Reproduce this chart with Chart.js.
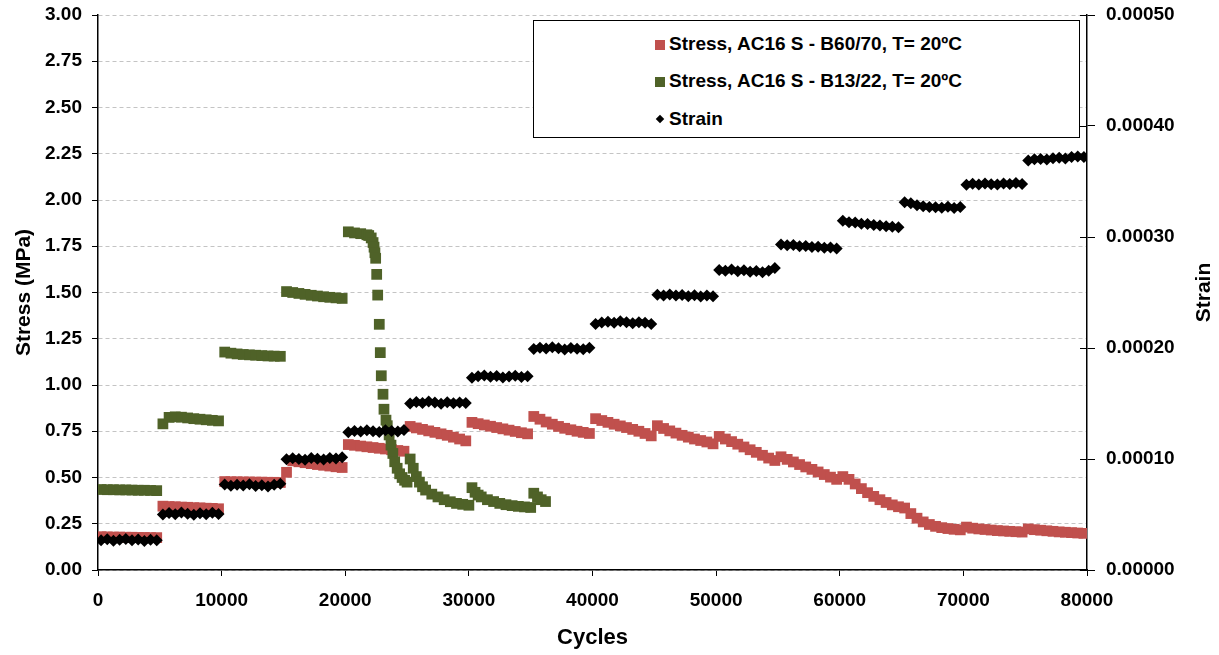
<!DOCTYPE html>
<html>
<head>
<meta charset="utf-8">
<script src="https://cdn.jsdelivr.net/npm/chart.js@4.4.1/dist/chart.umd.min.js"></script>
<style>
  html, body { margin: 0; padding: 0; background: #fff; }
  #wrap { position: relative; width: 1219px; height: 655px; }
  #legend {
    position: absolute; left: 533px; top: 20px; width: 545px; height: 116px;
    border: 1px solid #000; background: #fff;
    font: bold 19px 'Liberation Sans', Arial, sans-serif; color: #000;
  }
  .item { position: absolute; left: 121px; height: 22px; line-height: 22px; white-space: nowrap; }
  .mk { display: inline-block; width: 10px; height: 10px; margin-right: 4px; vertical-align: 0px; }
  .dia { display: inline-block; width: 6px; height: 6px; background: #000; transform: rotate(45deg); margin: 0 6px 0 2px; vertical-align: 3px; }
</style>
</head>
<body>
<div id="wrap">
  <canvas id="chart" width="1219" height="655"></canvas>
  <div id="legend">
    <div class="item" style="top:12px"><span class="mk" style="background:#c0504d"></span>Stress, AC16 S - B60/70, T= 20ºC</div>
    <div class="item" style="top:49px"><span class="mk" style="background:#4f6228"></span>Stress, AC16 S - B13/22, T= 20ºC</div>
    <div class="item" style="top:87px"><span class="dia"></span>Strain</div>
  </div>
</div>
<script>
// load steps of 5000 cycles, 10 readings per step
const blockStarts = [0, 5000, 10000, 15000, 20000, 25000, 30000, 35000,
                     40000, 45000, 50000, 55000, 60000, 65000, 70000, 75000];
const blockOffsets = [250, 750, 1250, 1750, 2250, 2750, 3250, 3750, 4250, 4750];

// strain (right axis)
const strainByBlock = [
    [0.0000267, 0.0000277, 0.0000263, 0.0000272, 0.0000280, 0.0000267, 0.0000275, 0.0000262, 0.0000273, 0.0000268],
    [0.0000500, 0.0000513, 0.0000503, 0.0000517, 0.0000507, 0.0000497, 0.0000512, 0.0000502, 0.0000515, 0.0000505],
    [0.0000770, 0.0000758, 0.0000767, 0.0000762, 0.0000772, 0.0000757, 0.0000763, 0.0000753, 0.0000768, 0.0000777],
    [0.0000997, 0.0001007, 0.0001000, 0.0000993, 0.0001008, 0.0001002, 0.0000995, 0.0001010, 0.0001005, 0.0001015],
    [0.0001242, 0.0001253, 0.0001247, 0.0001258, 0.0001250, 0.0001243, 0.0001260, 0.0001252, 0.0001247, 0.0001262],
    [0.0001500, 0.0001513, 0.0001505, 0.0001517, 0.0001508, 0.0001498, 0.0001512, 0.0001503, 0.0001510, 0.0001505],
    [0.0001733, 0.0001745, 0.0001753, 0.0001740, 0.0001748, 0.0001735, 0.0001743, 0.0001750, 0.0001738, 0.0001745],
    [0.0001992, 0.0002003, 0.0001995, 0.0002007, 0.0001997, 0.0001987, 0.0002000, 0.0001993, 0.0001988, 0.0002002],
    [0.0002217, 0.0002230, 0.0002237, 0.0002227, 0.0002242, 0.0002232, 0.0002222, 0.0002233, 0.0002227, 0.0002217],
    [0.0002480, 0.0002473, 0.0002483, 0.0002472, 0.0002478, 0.0002467, 0.0002475, 0.0002463, 0.0002472, 0.0002467],
    [0.0002703, 0.0002695, 0.0002707, 0.0002692, 0.0002700, 0.0002687, 0.0002693, 0.0002683, 0.0002697, 0.0002720],
    [0.0002933, 0.0002925, 0.0002928, 0.0002917, 0.0002920, 0.0002910, 0.0002913, 0.0002903, 0.0002905, 0.0002897],
    [0.0003147, 0.0003133, 0.0003130, 0.0003120, 0.0003117, 0.0003108, 0.0003103, 0.0003097, 0.0003092, 0.0003087],
    [0.0003313, 0.0003303, 0.0003287, 0.0003277, 0.0003270, 0.0003267, 0.0003263, 0.0003272, 0.0003262, 0.0003270],
    [0.0003470, 0.0003480, 0.0003473, 0.0003483, 0.0003475, 0.0003472, 0.0003482, 0.0003477, 0.0003487, 0.0003478],
    [0.0003690, 0.0003700, 0.0003703, 0.0003698, 0.0003710, 0.0003713, 0.0003708, 0.0003720, 0.0003725, 0.0003720]
];

// stress B60/70 (MPa)
const redByBlock = [
    [0.180, 0.179, 0.178, 0.178, 0.177, 0.177, 0.176, 0.176, 0.175, 0.175],
    [0.345, 0.343, 0.342, 0.340, 0.339, 0.337, 0.336, 0.334, 0.333, 0.331],
    [0.478, 0.477, 0.477, 0.476, 0.476, 0.475, 0.475, 0.474, 0.474, 0.473],
    [0.528, 0.590, 0.585, 0.580, 0.575, 0.570, 0.566, 0.562, 0.558, 0.554],
    [0.678, 0.674, 0.670, 0.666, 0.662, 0.658, 0.654, 0.650, 0.646, 0.642],
    [0.776, 0.768, 0.760, 0.752, 0.744, 0.736, 0.728, 0.718, 0.708, 0.698],
    [0.798, 0.791, 0.784, 0.777, 0.770, 0.763, 0.756, 0.749, 0.742, 0.736],
    [0.830, 0.815, 0.800, 0.788, 0.776, 0.766, 0.758, 0.750, 0.744, 0.738],
    [0.818, 0.808, 0.798, 0.788, 0.779, 0.770, 0.760, 0.750, 0.738, 0.725],
    [0.780, 0.765, 0.752, 0.740, 0.728, 0.718, 0.708, 0.700, 0.692, 0.682],
    [0.722, 0.708, 0.694, 0.680, 0.665, 0.650, 0.636, 0.620, 0.605, 0.592],
    [0.612, 0.598, 0.584, 0.570, 0.557, 0.544, 0.530, 0.516, 0.502, 0.490],
    [0.505, 0.490, 0.465, 0.440, 0.418, 0.398, 0.380, 0.365, 0.352, 0.342],
    [0.335, 0.305, 0.280, 0.260, 0.246, 0.236, 0.229, 0.224, 0.220, 0.217],
    [0.232, 0.226, 0.222, 0.219, 0.216, 0.213, 0.211, 0.209, 0.207, 0.205],
    [0.222, 0.218, 0.215, 0.212, 0.209, 0.206, 0.204, 0.202, 0.200, 0.198]
];

// stress B13/22 (MPa), failed near 36000 cycles
const greenCycles = [
    250, 750, 1250, 1750, 2250, 2750, 3250, 3750, 4250, 4750,
    5250, 5750, 6250, 6750, 7250, 7750, 8250, 8750, 9250, 9750,
    10250, 10750, 11250, 11750, 12250, 12750, 13250, 13750, 14250, 14750,
    15250, 15750, 16250, 16750, 17250, 17750, 18250, 18750, 19250, 19750,
    20250, 20750, 21250, 21750, 21900, 22100, 22250, 22330, 22400, 22460,
    22543, 22624, 22753, 22834, 22915, 23053, 23133, 23295,
    23400, 23550, 23700, 23850, 24000, 24200, 24400, 24600, 24800, 25000,
    25250, 25500, 25750, 26000, 26250, 26500, 27000, 27500, 28000, 28500, 29000, 29500, 30000,
    30250, 30500, 30750, 31000, 31500, 32000, 32500, 33000, 33500, 34000, 34500, 35000,
    35250, 35550, 35850, 36200
];
const greenStress = [
    0.435, 0.434, 0.434, 0.433, 0.433, 0.432, 0.431, 0.431, 0.430, 0.429,
    0.790, 0.825, 0.828, 0.826, 0.822, 0.818, 0.815, 0.812, 0.809, 0.806,
    1.178, 1.172, 1.168, 1.165, 1.163, 1.161, 1.159, 1.157, 1.156, 1.155,
    1.505, 1.500, 1.495, 1.490, 1.485, 1.481, 1.477, 1.474, 1.471, 1.468,
    1.828, 1.822, 1.818, 1.812, 1.808, 1.795, 1.770, 1.745, 1.715, 1.685,
    1.598, 1.486, 1.328, 1.175, 1.050, 0.950, 0.869, 0.810,
    0.780, 0.730, 0.675, 0.630, 0.585, 0.550, 0.520, 0.500, 0.485, 0.475,
    0.600, 0.550, 0.505, 0.475, 0.450, 0.432, 0.410, 0.395, 0.380, 0.369, 0.360, 0.355, 0.350,
    0.445, 0.420, 0.405, 0.395, 0.380, 0.370, 0.360, 0.353, 0.348, 0.344, 0.341, 0.338,
    0.415, 0.395, 0.380, 0.370
];

const xTicks = [0, 10000, 20000, 30000, 40000, 50000, 60000, 70000, 80000];

const FONT = "'Liberation Sans', Arial, sans-serif";
Chart.defaults.font.family = FONT;
Chart.defaults.color = '#000';

// points of each 5000-cycle step; a null closes the step so the band breaks
function fromBlocks(blocks, breakSteps) {
    let pts = [];
    blocks.forEach((vals, b) => {
        vals.forEach((v, i) => {
            pts.push({x: blockStarts[b] + blockOffsets[i], y: v});
        });
        if (breakSteps) {
            pts.push({x: blockStarts[b] + 4999, y: null});
        }
    });
    return pts;
}

const redData = fromBlocks(redByBlock, false);
const strainData = fromBlocks(strainByBlock, true);
const greenData = greenCycles.map((c, i) => ({x: c, y: greenStress[i]}));

// inward ticks on the right axis + right title reading upwards
const extras = {
    id: 'extras',
    afterDraw(chart) {
        const {ctx, chartArea, scales} = chart;
        ctx.save();
        ctx.strokeStyle = '#000';
        ctx.lineWidth = 1;
        scales.y2.ticks.forEach(t => {
            let py = Math.round(scales.y2.getPixelForValue(t.value)) + 0.5;
            ctx.beginPath();
            ctx.moveTo(chartArea.right - 7, py);
            ctx.lineTo(chartArea.right, py);
            ctx.stroke();
        });
        ctx.font = 'bold 21px ' + FONT;
        ctx.fillStyle = '#000';
        ctx.textAlign = 'center';
        ctx.textBaseline = 'middle';
        ctx.translate(1204, (chartArea.top + chartArea.bottom) / 2);
        ctx.rotate(-Math.PI / 2);
        ctx.fillText('Strain', 0, 0);
        ctx.restore();
    }
};

const tickFont = {size: 19, weight: 'bold'};
const noPad = (s) => { s.paddingTop = 0; s.paddingBottom = 0; s.paddingLeft = 0; s.paddingRight = 0; };

new Chart(document.getElementById('chart').getContext('2d'), {
    type: 'scatter',
    plugins: [extras],
    data: {
        datasets: [{
            label: 'Stress, AC16 S - B60/70, T= 20ºC',
            data: redData,
            yAxisID: 'y',
            order: 3,
            pointStyle: 'rect',
            pointRadius: 7.6,
            pointBorderWidth: 0,
            backgroundColor: '#c0504d',
            borderColor: '#c0504d'
        }, {
            label: 'Stress, AC16 S - B13/22, T= 20ºC',
            data: greenData,
            yAxisID: 'y',
            order: 2,
            pointStyle: 'rect',
            pointRadius: 7.6,
            pointBorderWidth: 0,
            backgroundColor: '#4f6228',
            borderColor: '#4f6228'
        }, {
            label: 'Strain',
            data: strainData,
            yAxisID: 'y2',
            order: 1,
            showLine: true,
            spanGaps: false,
            borderWidth: 6,
            pointStyle: 'rectRot',
            pointRadius: 6,
            pointBorderWidth: 0,
            backgroundColor: '#000',
            borderColor: '#000'
        }]
    },
    options: {
        responsive: false,
        animation: false,
        devicePixelRatio: 1,
        layout: {padding: {top: 15, left: 0, right: 0, bottom: 0}},
        events: [],
        plugins: {
            legend: {display: false},
            tooltip: {enabled: false}
        },
        scales: {
            x: {
                type: 'linear',
                min: 0,
                max: 80000,
                afterFit: (s) => { s.height = 85; noPad(s); },
                afterBuildTicks: (s) => { s.ticks = xTicks.map(v => ({value: v})); },
                ticks: {
                    font: tickFont,
                    padding: 13,
                    maxRotation: 0,
                    autoSkip: false,
                    callback: (v) => String(v)
                },
                grid: {drawOnChartArea: false, drawTicks: true, tickLength: 6, tickColor: '#000', color: '#000'},
                border: {color: '#000', width: 1.5},
                title: {display: true, text: 'Cycles', font: {size: 22, weight: 'bold'}, padding: {top: 0, bottom: 4}}
            },
            y: {
                position: 'left',
                min: 0,
                max: 3,
                afterFit: (s) => { s.width = 98; noPad(s); },
                ticks: {
                    stepSize: 0.25,
                    font: tickFont,
                    padding: 10,
                    callback: (v) => v.toFixed(2)
                },
                grid: {color: '#c4c4c4', lineWidth: 1, tickLength: 6, tickColor: '#000', tickBorderDash: []},
                border: {color: '#000', width: 1.5, dash: [4, 3]},
                title: {display: true, text: 'Stress (MPa)', font: {size: 21, weight: 'bold'}, padding: {top: 12, bottom: 0}}
            },
            y2: {
                position: 'right',
                min: 0,
                max: 0.0005,
                afterFit: (s) => { s.width = 132; noPad(s); },
                ticks: {
                    stepSize: 0.0001,
                    font: tickFont,
                    padding: 11,
                    callback: (v) => v.toFixed(5)
                },
                grid: {drawOnChartArea: false, tickLength: 8, tickColor: '#000', color: '#000'},
                border: {color: '#000', width: 1.5}
            }
        }
    }
});
</script>
</body>
</html>
